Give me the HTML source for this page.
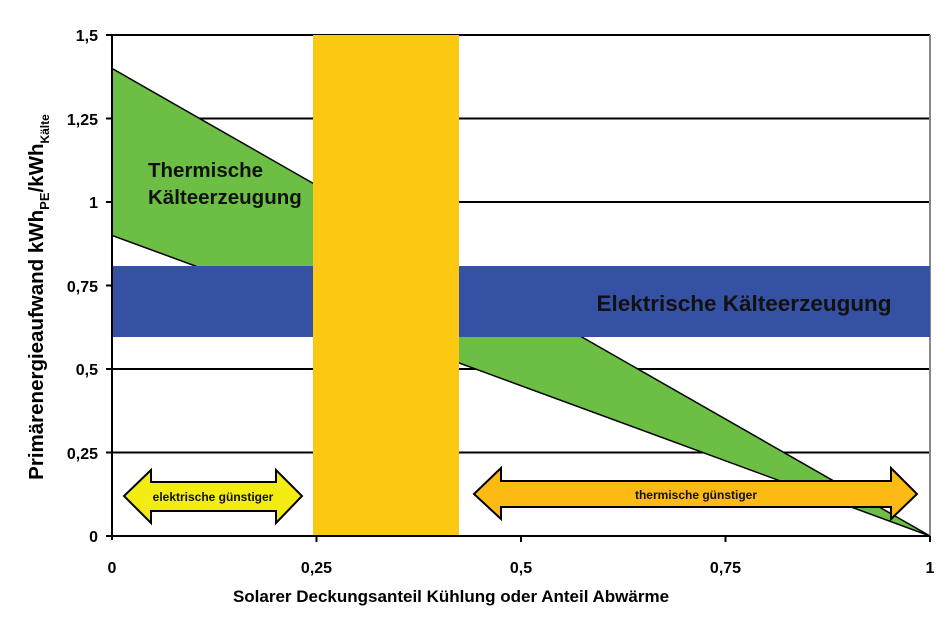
<!DOCTYPE html>
<html><head><meta charset="utf-8"><style>body{margin:0;background:#fff}svg{display:block}text{font-family:"Liberation Sans",Arial,sans-serif}</style></head><body>
<svg width="951" height="634" viewBox="0 0 951 634" xmlns="http://www.w3.org/2000/svg">
<rect width="951" height="634" fill="#fff"/>
<g stroke="#000" stroke-width="2">
<line x1="112" y1="35" x2="930" y2="35"/>
<line x1="112" y1="118.5" x2="930" y2="118.5"/>
<line x1="112" y1="202" x2="930" y2="202"/>
<line x1="112" y1="285.5" x2="930" y2="285.5"/>
<line x1="112" y1="369" x2="930" y2="369"/>
<line x1="112" y1="452.5" x2="930" y2="452.5"/>
</g>
<polygon points="112,68.4 930,536 112,235.4" fill="#6DBE45" stroke="#000" stroke-width="1.5"/>
<line x1="930" y1="35" x2="930" y2="536" stroke="#888" stroke-width="2"/>
<rect x="112" y="266" width="818" height="71" fill="#3551A4"/>
<rect x="313" y="35" width="146" height="501" fill="#FCC812"/>
<line x1="112" y1="35" x2="112" y2="540" stroke="#000" stroke-width="2"/>
<line x1="106" y1="536" x2="930" y2="536" stroke="#000" stroke-width="2"/>
<g stroke="#000" stroke-width="2">
<line x1="106" y1="35" x2="112" y2="35"/><line x1="106" y1="118.5" x2="112" y2="118.5"/><line x1="106" y1="202" x2="112" y2="202"/><line x1="106" y1="285.5" x2="112" y2="285.5"/><line x1="106" y1="369" x2="112" y2="369"/><line x1="106" y1="452.5" x2="112" y2="452.5"/>
<line x1="316.5" y1="536" x2="316.5" y2="542"/><line x1="521" y1="536" x2="521" y2="542"/><line x1="725.5" y1="536" x2="725.5" y2="542"/><line x1="930" y1="536" x2="930" y2="542"/>
</g>
<polygon points="124,496 151,470 151,482 276,482 276,470 302,496 276,523 276,511 151,511 151,523" fill="#F2EC12" stroke="#000" stroke-width="2"/>
<text x="213" y="501" font-size="12" font-weight="bold" text-anchor="middle" fill="#111">elektrische günstiger</text>
<polygon points="474,494 501,468 501,481 891,481 891,468 917,494 891,519 891,507 501,507 501,519" fill="#FDBA13" stroke="#000" stroke-width="2"/>
<text x="696" y="499" font-size="12" font-weight="bold" text-anchor="middle" fill="#111">thermische günstiger</text>
<text x="148" y="177" font-size="20.5" font-weight="bold" fill="#111">Thermische</text>
<text x="148" y="204" font-size="20.5" font-weight="bold" fill="#111">Kälteerzeugung</text>
<text x="744" y="311" font-size="22.5" font-weight="bold" fill="#111" text-anchor="middle">Elektrische Kälteerzeugung</text>
<g font-size="16" font-weight="bold" fill="#000" text-anchor="end">
<text x="98" y="41">1,5</text><text x="98" y="125">1,25</text><text x="98" y="208">1</text><text x="98" y="292">0,75</text><text x="98" y="375">0,5</text><text x="98" y="459">0,25</text><text x="98" y="542">0</text>
</g>
<g font-size="16" font-weight="bold" fill="#000" text-anchor="middle">
<text x="112" y="573">0</text><text x="316.5" y="573">0,25</text><text x="521" y="573">0,5</text><text x="725.5" y="573">0,75</text><text x="930" y="573">1</text>
</g>
<text x="451" y="602" font-size="17" font-weight="bold" text-anchor="middle" fill="#000">Solarer Deckungsanteil Kühlung oder Anteil Abwärme</text>
<text transform="translate(43,297) rotate(-90)" font-size="20.5" font-weight="bold" text-anchor="middle" fill="#000">Primärenergieaufwand kWh<tspan font-size="13" dy="6">PE</tspan><tspan dy="-6">/kWh</tspan><tspan font-size="12" dy="6">Kälte</tspan></text>
</svg>
</body></html>
